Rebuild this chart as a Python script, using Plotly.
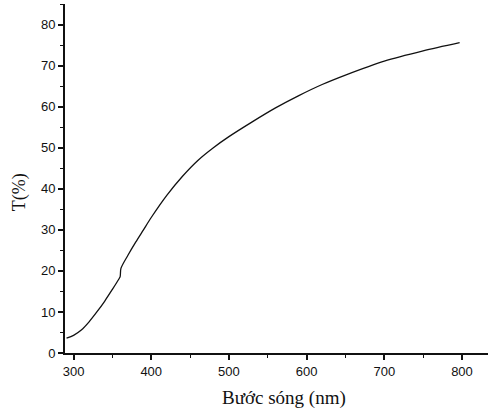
import plotly.graph_objects as go

# Transmission spectrum: wavelength (nm) vs transmittance T (%)
wavelength = [291, 300, 310, 320, 330, 340, 350, 358, 360, 361, 370, 380, 390, 400,
              420, 440, 460, 480, 500, 530, 560, 590, 620, 650, 700, 750, 797]
transmittance = [3.6, 4.3, 5.6, 7.6, 10.0, 12.6, 15.5, 17.9, 18.6, 20.6, 23.8, 27.0, 30.0, 33.0,
                 38.4, 43.0, 46.9, 50.0, 52.7, 56.3, 59.7, 62.7, 65.4, 67.7, 71.1, 73.6, 75.6]

x_ticks = [300, 400, 500, 600, 700, 800]
y_ticks = [0, 10, 20, 30, 40, 50, 60, 70, 80]

fig = go.Figure()
fig.add_trace(go.Scatter(
    x=wavelength, y=transmittance, mode="lines",
    line=dict(color="#111111", width=1.3, shape="spline", smoothing=0.8),
    showlegend=False, hoverinfo="skip",
))

axis_common = dict(
    showgrid=False, zeroline=False, showline=True, linecolor="#111111", linewidth=1.8,
    ticks="outside", ticklen=5, tickwidth=1.5, tickcolor="#111111",
    tickfont=dict(family="Liberation Sans, Arial, sans-serif", size=13, color="#111111"),
    minor=dict(ticks="outside", ticklen=3, tickwidth=1.2, tickcolor="#111111"),
)

fig.update_xaxes(range=[289, 833.5], tickvals=x_ticks, minor_dtick=50, minor_tick0=0, **axis_common)
fig.update_yaxes(range=[0, 85], tickvals=y_ticks, minor_dtick=5, minor_tick0=0, **axis_common)

title_font = dict(family="Liberation Serif, Times New Roman, serif", size=19, color="#111111")
fig.add_annotation(text="Bước sóng (nm)", xref="paper", yref="paper",
                   x=0.517, y=-0.128, xanchor="center", yanchor="middle",
                   showarrow=False, font=title_font)
fig.add_annotation(text="T(%)", xref="paper", yref="paper", textangle=-90,
                   x=-0.107, y=0.46, xanchor="center", yanchor="middle",
                   showarrow=False, font=dict(title_font, size=18))

fig.update_layout(
    width=488, height=412,
    margin=dict(l=65, r=0, t=4, b=59),
    plot_bgcolor="white", paper_bgcolor="white",
)

fig.write_html("out.html")
